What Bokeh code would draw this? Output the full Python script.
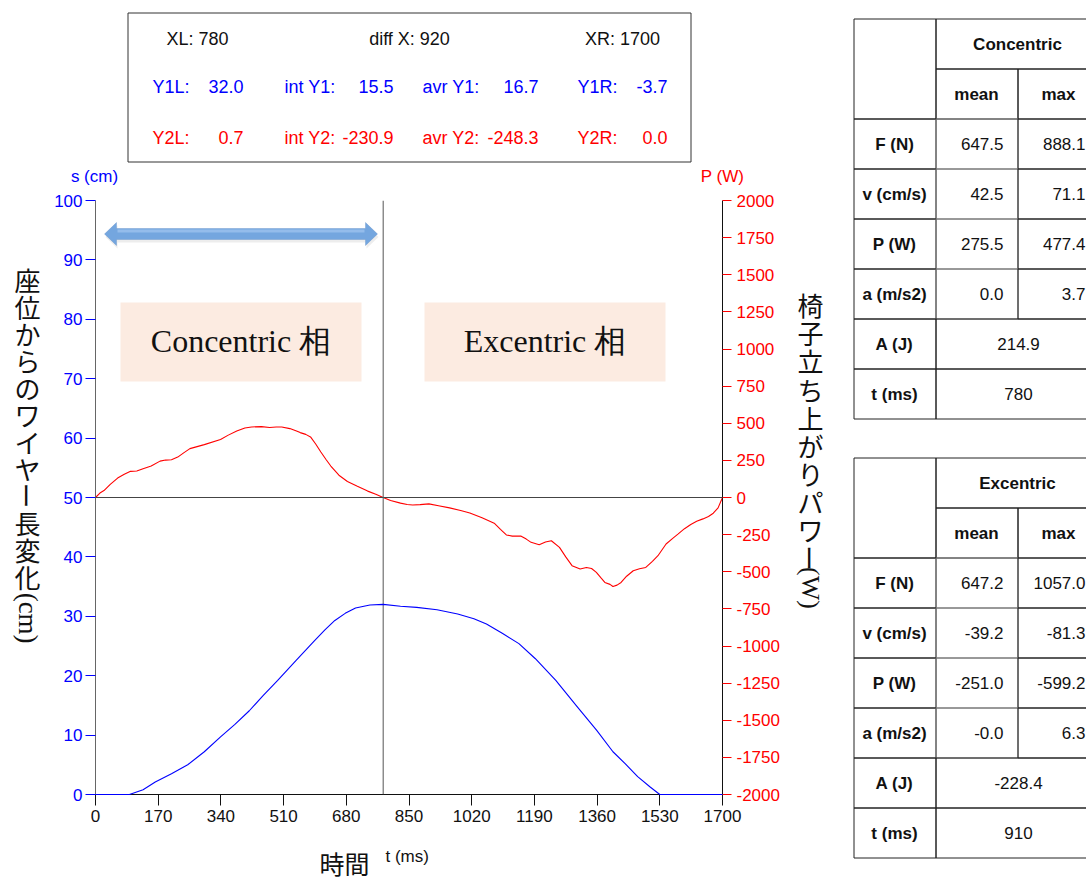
import math
from bokeh.plotting import figure
from bokeh.layouts import row, column
from bokeh.models import (LinearAxis, Range1d, FixedTicker, Span, BoxAnnotation,
                          PolyAnnotation, PrintfTickFormatter)
from bokeh.core.properties import value
from bokeh.embed import file_html
from bokeh.resources import INLINE

# ---- wire length change s (cm) against time (ms)
s_time = [0, 92, 129, 162, 206, 250, 295, 339, 378, 417, 455, 494, 544, 594, 622,
          649, 677, 705, 744, 780, 827, 871, 926, 982, 1026, 1060, 1104, 1148,
          1192, 1248, 1303, 1359, 1403, 1436, 1470, 1503, 1530, 1700]
s_cm = [0.0, 0.0, 0.8, 2.1, 3.5, 5.0, 7.2, 9.7, 11.8, 14.1, 16.7, 19.2, 22.6, 25.9,
        27.7, 29.3, 30.5, 31.4, 31.9, 32.0, 31.7, 31.5, 31.1, 30.4, 29.6, 28.7,
        27.1, 25.4, 22.9, 19.2, 15.0, 10.8, 7.2, 5.2, 3.0, 1.3, 0.0, 0.0]

# ---- sit-to-stand power P (W) against time (ms)
p_time = [0, 12, 23, 40, 60, 78, 95, 112, 129, 151, 175, 190, 206, 223, 240, 256,
          295, 339, 360, 383, 405, 423, 450, 472, 490, 505, 527, 545, 555, 570, 583,
          597, 611, 625, 638, 660, 683, 710, 738, 760, 780, 800, 827, 845, 860, 880,
          904, 930, 960, 990, 1015, 1048, 1081, 1098, 1114, 1130, 1153, 1168, 1181,
          1203, 1220, 1236, 1258, 1275, 1292, 1314, 1331, 1345, 1358, 1370, 1381,
          1395, 1403, 1414, 1425, 1440, 1458, 1475, 1492, 1510, 1525, 1547, 1565,
          1580, 1597, 1614, 1630, 1647, 1662, 1675, 1688, 1700]
p_watt = [0, 30, 47, 88, 131, 156, 176, 178, 194, 212, 245, 252, 254, 272, 302, 329,
          356, 390, 420, 448, 468, 475, 477.4, 471, 475, 475, 464, 448, 437, 425, 408,
          360, 306, 256, 212, 150, 108, 75, 43, 22, 0.7, -20, -38, -47, -50, -48,
          -43, -55, -70, -87, -104, -137, -173, -215, -252, -260, -259, -280, -302,
          -318, -300, -291, -336, -400, -459, -482, -471, -478, -504, -540, -572,
          -585, -599.2, -590, -572, -530, -493, -480, -471, -430, -392, -313, -275,
          -245, -210, -182, -160, -144, -128, -106, -70, 0]

x_ticks = [0, 170, 340, 510, 680, 850, 1020, 1190, 1360, 1530, 1700]
s_ticks = list(range(0, 101, 10))
p_ticks = list(range(-2000, 2001, 250))

# ---- cursor read-out
cursor_top = ["XL: 780", "diff X: 920", "XR: 1700"]
cursor_y1 = [("Y1L:", "32.0"), ("int Y1:", "15.5"), ("avr Y1:", "16.7"), ("Y1R:", "-3.7")]
cursor_y2 = [("Y2L:", "0.7"), ("int Y2:", "-230.9"), ("avr Y2:", "-248.3"), ("Y2R:", "0.0")]

# ---- phase summary tables
row_names = ["F (N)", "v (cm/s)", "P (W)", "a (m/s2)"]
con_mean = ["647.5", "42.5", "275.5", "0.0"]
con_max = ["888.1", "71.1", "477.4", "3.7"]
con_work, con_time = "214.9", "780"
exc_mean = ["647.2", "-39.2", "-251.0", "-0.0"]
exc_max = ["1057.0", "-81.3", "-599.2", "6.3"]
exc_work, exc_time = "-228.4", "910"

SANS = "Liberation Sans"
SERIF = "Liberation Serif"
JP = "Noto Sans CJK JP"
BLUE = "#0000ff"
RED = "#ff0000"
INK = "#111111"


def panel(x0, x1, y0, y1):
    """A bare figure whose data coordinates are page pixels (y grows downward)."""
    f = figure(width=x1 - x0, height=y1 - y0, output_backend="svg",
               toolbar_location=None, x_range=Range1d(x0, x1),
               y_range=Range1d(y1, y0), min_border=0,
               x_axis_type=None, y_axis_type=None)
    f.outline_line_color = None
    f.grid.visible = False
    f.background_fill_color = "white"
    f.border_fill_color = "white"
    return f


def txt(f, xs, ys, texts, size, color=INK, align="center", font=SANS,
        style="normal", angle=0.0):
    f.text(x=xs, y=ys, text=texts, text_font=value(font),
           text_font_size=f"{size}px", text_color=color, text_align=align,
           text_baseline="middle", text_font_style=style, angle=angle)


def cell(f, l, r, t, b, color="#222222"):
    f.quad(left=[l], right=[r], top=[t], bottom=[b], fill_alpha=0,
           line_color=color, line_width=1)


# ================= main chart (page x 50..790, y 188..838)
p = figure(width=740, height=650, output_backend="svg", toolbar_location=None,
           x_range=Range1d(0, 1700), y_range=Range1d(0, 100),
           min_border_left=45, min_border_right=68, min_border_top=12,
           min_border_bottom=44)
p.outline_line_color = None
p.grid.visible = False
p.background_fill_color = "white"
p.border_fill_color = "white"

xa = p.xaxis[0]
xa.ticker = FixedTicker(ticks=x_ticks)
xa.major_label_text_font = SANS
xa.major_label_text_font_size = "17px"
xa.major_label_text_color = INK
xa.axis_line_color = INK
xa.major_tick_line_color = INK
xa.major_tick_out = 11
xa.major_tick_in = 0
xa.minor_tick_line_color = None
xa.major_label_standoff = 4

ya = p.yaxis[0]
ya.ticker = FixedTicker(ticks=s_ticks)
ya.major_label_text_font = SANS
ya.major_label_text_font_size = "17px"
ya.major_label_text_color = BLUE
ya.axis_line_color = "#666666"
ya.major_tick_line_color = BLUE
ya.major_tick_out = 10
ya.major_tick_in = 0
ya.minor_tick_line_color = None
ya.major_label_standoff = 3

p.extra_y_ranges = {"pw": Range1d(-2000, 2000)}
ra = LinearAxis(y_range_name="pw", ticker=FixedTicker(ticks=p_ticks),
                formatter=PrintfTickFormatter(format="%d"))
ra.major_label_text_font = SANS
ra.major_label_text_font_size = "17px"
ra.major_label_text_color = RED
ra.axis_line_color = INK
ra.major_tick_line_color = RED
ra.major_tick_out = 9
ra.major_tick_in = 0
ra.minor_tick_line_color = None
ra.major_label_standoff = 5
p.add_layout(ra, "right")


# page pixel -> data helpers for the decorations inside the frame
def dx(px):
    return (px - 95) / 627 * 1700


def dy(py):
    return (794 - py) / 594 * 100


for l, r in [(120, 361), (424, 665)]:
    p.add_layout(BoxAnnotation(left=dx(l), right=dx(r), top=dy(302), bottom=dy(381),
                               fill_color="#fcebe1", fill_alpha=1, line_alpha=0,
                               level="underlay"))
p.text(x=[dx(240.5), dx(544.5)], y=[dy(340), dy(340)],
       text=["Concentric 相", "Excentric 相"], text_font=value(SERIF),
       text_font_size="32px", text_color=INK, text_align="center",
       text_baseline="middle")

# concentric-phase double arrow
ax = [104, 116, 116, 365, 365, 377, 365, 365, 116, 116]
ay = [233.5, 222, 228, 228, 222, 233.5, 245, 239, 239, 245]
p.add_layout(PolyAnnotation(xs=[dx(v + 1) for v in ax], ys=[dy(v + 3) for v in ay],
                            fill_color="#999999", fill_alpha=0.18, line_alpha=0))
p.add_layout(PolyAnnotation(xs=[dx(v) for v in ax], ys=[dy(v) for v in ay],
                            fill_color="#74a6df", fill_alpha=1,
                            line_color="#4f81bd", line_width=1))
p.add_layout(PolyAnnotation(xs=[dx(v) for v in [117, 364, 364, 117]],
                            ys=[dy(v) for v in [229, 229, 232, 232]],
                            fill_color="#9cc2ee", fill_alpha=0.8, line_alpha=0))

# zero line of P and cursor at XL
p.add_layout(Span(location=50, dimension="width", line_color="#444444", line_width=1))
p.add_layout(Span(location=780, dimension="height", line_color="#555555", line_width=1))

p.line(p_time, p_watt, y_range_name="pw", line_color=RED, line_width=1.1)
sr = p.line(s_time, s_cm, line_color=BLUE, line_width=1.1)
sr.level = "overlay"

# ================= cursor read-out and axis titles (page y 0..188)
top = panel(0, 850, 0, 188)
cell(top, 127.5, 690.5, 12.5, 161.5, color="#333333")
txt(top, [197, 409, 622], [38] * 3, cursor_top, 18)
lab_x = [152, 284, 422, 577]
val_x = [243, 393, 538, 667]
txt(top, lab_x, [86] * 4, [a for a, _ in cursor_y1], 18, color=BLUE, align="left")
txt(top, val_x, [86] * 4, [b for _, b in cursor_y1], 18, color=BLUE, align="right")
txt(top, lab_x, [137] * 4, [a for a, _ in cursor_y2], 18, color=RED, align="left")
txt(top, val_x, [137] * 4, [b for _, b in cursor_y2], 18, color=RED, align="right")
txt(top, [94], [176], ["s (cm)"], 17, color=BLUE)
txt(top, [722], [176], ["P (W)"], 17, color=RED)

# ================= vertical Japanese axis titles
left = panel(0, 50, 188, 838)
lchars = list("座位からのワイヤー長変化")
ly = [274 + i * 29.6 for i in range(len(lchars))]
txt(left, [27] * len(lchars), ly, [c if c != "ー" else "" for c in lchars], 26, font=JP)
txt(left, [27], [ly[lchars.index("ー")]], ["ー"], 26, font=JP, angle=-math.pi / 2)
txt(left, [27], [645], ["(cm)"], 27, font=SERIF, angle=-math.pi / 2)

right = panel(790, 850, 188, 838)
rchars = list("椅子立ち上がりパワー")
ry = [302 + i * 30.8 for i in range(len(rchars))]
txt(right, [810] * len(rchars), ry, [c if c != "ー" else "" for c in rchars], 26, font=JP)
txt(right, [810], [ry[rchars.index("ー")]], ["ー"], 26, font=JP, angle=-math.pi / 2)
txt(right, [810], [612], ["(W)"], 26, font=SERIF, angle=-math.pi / 2)

# ================= x axis title (page y 838..881)
bottom = panel(0, 850, 838, 881)
txt(bottom, [344], [862], ["時間"], 25, font=JP)
txt(bottom, [385], [856], ["t (ms)"], 17, align="left")

# ================= phase summary tables (page x 850..1086)
tab = panel(850, 1086, 0, 881)


def table(t0, title, means, maxes, work, dur):
    c0, c1, c2, c3 = 853.5, 935.5, 1017.5, 1100
    rh = 50
    cell(tab, c0, c1, t0, t0 + 2 * rh)
    cell(tab, c1, c3, t0, t0 + rh)
    cell(tab, c1, c2, t0 + rh, t0 + 2 * rh)
    cell(tab, c2, c3, t0 + rh, t0 + 2 * rh)
    txt(tab, [1017], [t0 + rh / 2], [title], 17, style="bold")
    txt(tab, [976, 1058], [t0 + 1.5 * rh] * 2, ["mean", "max"], 17, style="bold")
    ys = []
    for k in range(len(row_names)):
        y0 = t0 + (2 + k) * rh
        cell(tab, c0, c1, y0, y0 + rh)
        cell(tab, c1, c2, y0, y0 + rh, color="#777777")
        cell(tab, c2, c3, y0, y0 + rh)
        ys.append(y0 + rh / 2)
    for k in range(2):
        y0 = t0 + (6 + k) * rh
        cell(tab, c0, c1, y0, y0 + rh)
        cell(tab, c1, c3, y0, y0 + rh)
        ys.append(y0 + rh / 2)
    txt(tab, [894] * 6, ys, row_names + ["A (J)", "t (ms)"], 17, style="bold")
    txt(tab, [1003] * 4, ys[:4], means, 17, align="right")
    txt(tab, [1085] * 4, ys[:4], maxes, 17, align="right")
    txt(tab, [1018] * 2, ys[4:], [work, dur], 17)


table(18.5, "Concentric", con_mean, con_max, con_work, con_time)
table(457.5, "Excentric", exc_mean, exc_max, exc_work, exc_time)

page = row(column(top, row(left, p, right), bottom), tab)
open("out.html", "w").write(file_html(page, INLINE))
